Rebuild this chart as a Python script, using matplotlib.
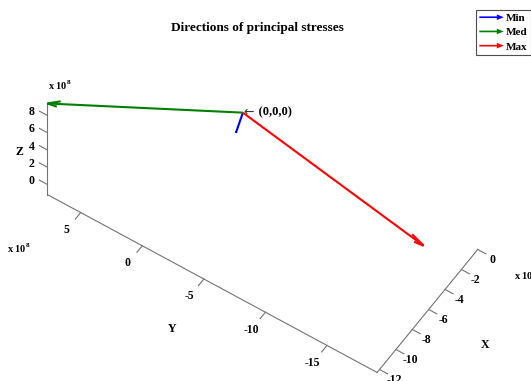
import matplotlib
matplotlib.use("Agg")

import matplotlib.pyplot as plt
import numpy as np
from matplotlib.legend_handler import HandlerPatch
from matplotlib.patches import FancyArrow, Patch


# Principal stress vectors drawn from the origin (values x 10^8)
STRESS_NAMES = ["Min", "Med", "Max"]
STRESS_COLORS = ["blue", "green", "red"]
MIN_VEC = [-0.96, -0.07, -1.17]
MED_VEC = [-12.30, 7.70, 9.39]
MAX_VEC = [-6.62, -19.07, 6.94]

X_TICKS = [-12, -10, -8, -6, -4, -2, 0]
Y_TICKS = [-15, -10, -5, 0, 5]
Z_TICKS = [0, 2, 4, 6, 8]

# View of the original figure
ELEV = 54.3
AZIM = -146.4
ZOOM = 0.846
AX_RECT = [-0.019, -0.179, 1.0, 1.394]

AXIS_COLOR = "0.45"
TICK_LEN = 0.65

plt.rcParams["font.family"] = ["Liberation Serif", "DejaVu Serif"]
plt.rcParams["font.weight"] = "bold"
plt.rcParams["mathtext.fontset"] = "custom"
plt.rcParams["mathtext.rm"] = "Liberation Serif:bold"
plt.rcParams["mathtext.bf"] = "Liberation Serif:bold"


def arrow_handle(legend, orig_handle, xdescent, ydescent, width, height, fontsize):
    return FancyArrow(
        0, height / 2, width, 0,
        width=1.2, head_width=4, head_length=5,
        length_includes_head=True,
        color=orig_handle.get_facecolor(),
    )


def main():
    fig = plt.figure(figsize=(5.31, 3.81), dpi=100)
    ax = fig.add_axes(AX_RECT, projection="3d", proj_type="ortho")

    vectors = np.array([MIN_VEC, MED_VEC, MAX_VEC])
    points = np.vstack([np.zeros(3), vectors])
    lo = points.min(axis=0)
    hi = points.max(axis=0)
    x0, y0, z0 = lo
    x1, y1, z1 = hi

    # Stress arrows
    for vec, color in zip(vectors, STRESS_COLORS):
        ax.quiver(
            0, 0, 0, vec[0], vec[1], vec[2],
            color=color, linewidth=1.5, arrow_length_ratio=0.06
        )

    # "<- (0,0,0)" marker at the origin: thin arrow, bold text
    ax.text(0, 0, 0, "\u2190", fontsize=9, ha="left", va="center",
            family="DejaVu Sans", weight="normal", color="0.2")
    ax.text(0, 0, 0, "     (0,0,0)", fontsize=9, ha="left", va="center")

    # Hand drawn axes, MATLAB style
    line_kw = dict(color=AXIS_COLOR, linewidth=0.8)
    ax.plot([x0, x0], [y1, y1], [z0, z1], **line_kw)
    ax.plot([x0, x0], [y0, y1], [z0, z0], **line_kw)
    ax.plot([x0, x1], [y0, y0], [z0, z0], **line_kw)

    text_kw = dict(fontsize=8.5, ha="center", va="center")

    for t in Z_TICKS:
        ax.plot([x0, x0], [y1, y1 + TICK_LEN], [t, t], **line_kw)
        ax.text(x0, y1 + 1.3, t - 0.6, str(t), **text_kw)

    for t in Y_TICKS:
        ax.plot([x0, x0 - TICK_LEN], [t, t], [z0, z0], **line_kw)
        ax.text(x0 - 1.75, t, z0, str(t), **text_kw)

    for t in X_TICKS:
        ax.plot([t, t], [y0, y0 - TICK_LEN], [z0, z0], **line_kw)
        ax.text(t, y0 - 1.17, z0 - 0.35, str(t), **text_kw)

    # Axis labels and exponents
    ax.text(x0 - 1.1, y1 + 1.55, (z0 + z1) / 2 - 0.3, "Z", rotation=90, **text_kw)
    ax.text(x0 - 4.95, (y0 + y1) / 2, z0 + 0.5, "Y", **text_kw)
    ax.text((x0 + x1) / 2, y0 - 4.65, z0 - 0.4, "X", **text_kw)

    exp_label = r"x 10$^{8}$"
    exp_kw = dict(fontsize=7.5, ha="center", va="center")
    ax.text(x0 + 1.1, y1 - 0.3, z1 + 1.05, exp_label, **exp_kw)
    ax.text(x0 - 4.8, y1 - 0.9, z0, exp_label, **exp_kw)
    ax.text(x1, y0 - 3.9, z0, exp_label, **exp_kw)

    ax.set_xlim(x0, x1)
    ax.set_ylim(y0, y1)
    ax.set_zlim(z0, z1)
    ax.set_box_aspect((x1 - x0, y1 - y0, z1 - z0), zoom=ZOOM)
    ax.view_init(elev=ELEV, azim=AZIM)
    ax.set_axis_off()

    fig.text(257 / 531, 1 - 28 / 381, "Directions of principal stresses",
             fontsize=9.5, ha="center", va="center")

    handles = [Patch(facecolor=c, label=n) for n, c in zip(STRESS_NAMES, STRESS_COLORS)]
    leg = fig.legend(
        handles=handles, loc="upper left",
        bbox_to_anchor=(476 / 531, 1 - 10 / 381),
        handler_map={Patch: HandlerPatch(patch_func=arrow_handle)},
        fontsize=8, frameon=True, fancybox=False, framealpha=1,
        edgecolor="0.3", handlelength=2.2, handletextpad=0.2,
        labelspacing=0.4, borderpad=0.3, borderaxespad=0,
    )
    leg.get_frame().set_linewidth(0.8)

    fig.savefig("out.png", dpi=100)
    plt.close(fig)


if __name__ == "__main__":
    main()
